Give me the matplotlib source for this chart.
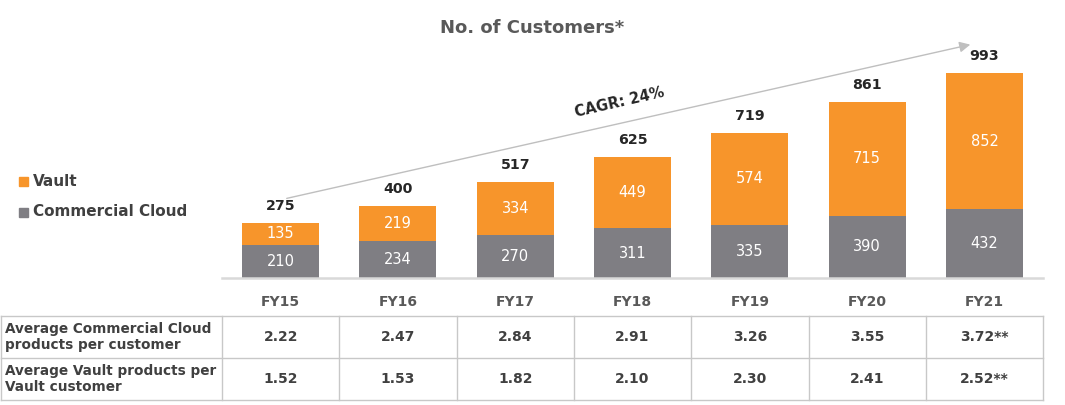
import numpy as np
import matplotlib.pyplot as plt
from matplotlib.patches import Rectangle

plt.rcParams['font.family'] = ['DejaVu Sans']

years = ['FY15', 'FY16', 'FY17', 'FY18', 'FY19', 'FY20', 'FY21']
cloud = [210, 234, 270, 311, 335, 390, 432]      # Commercial Cloud customers
vault = [135, 219, 334, 449, 574, 715, 852]      # Vault customers
totals = [275, 400, 517, 625, 719, 861, 993]     # unique customers
avg_cloud = ['2.22', '2.47', '2.84', '2.91', '3.26', '3.55', '3.72**']
avg_vault = ['1.52', '1.53', '1.82', '2.10', '2.30', '2.41', '2.52**']
row_labels = ['Average Commercial Cloud\nproducts per customer',
              'Average Vault products per\nVault customer']
cagr_text = 'CAGR: 24%'

orange = '#F7952B'
gray = '#7F7E83'
W, H = 1065, 405
base_y = 278          # pixel row of the bar baseline
px_per_unit = 0.1593
col_left, col_w = 222, 117.3

fig = plt.figure(figsize=(W / 100, H / 100), dpi=100)

# bars
ax = fig.add_axes([0, (H - base_y) / H, 1, base_y / H])
ax.set_xlim(0, W)
ax.set_ylim(0, base_y / px_per_unit)
ax.axis('off')

x = col_left + col_w * (np.arange(len(years)) + 0.5)
ax.bar(x, cloud, width=77, color=gray)
ax.bar(x, vault, bottom=cloud, width=77, color=orange)
for xi, c, v, t in zip(x, cloud, vault, totals):
    ax.text(xi, c / 2, str(c), ha='center', va='center', color='white', fontsize=10.5)
    ax.text(xi, c + v / 2, str(v), ha='center', va='center', color='white', fontsize=10.5)
    ax.annotate(str(t), (xi, c + v), xytext=(0, 17), textcoords='offset pixels',
                ha='center', va='center', fontweight='bold', color='#262626', fontsize=10.2)

# overlay in pixel coordinates for title, legend, arrow and table
ov = fig.add_axes([0, 0, 1, 1])
ov.set_xlim(0, W)
ov.set_ylim(H, 0)
ov.axis('off')
ov.patch.set_alpha(0)

ov.text(532, 28, 'No. of Customers*', ha='center', va='center', fontsize=13,
        fontweight='bold', color='#595959')

# legend
for yc, col, lab in [(181, orange, 'Vault'), (212, gray, 'Commercial Cloud')]:
    ov.add_patch(Rectangle((19, yc - 4.5), 9, 9, color=col))
    ov.text(33, yc, lab, ha='left', va='center', fontsize=11, fontweight='bold', color='#404040')

# CAGR arrow
ov.annotate('', xy=(973, 44), xytext=(284, 199),
            arrowprops=dict(arrowstyle='-|>', color='#BFBFBF', lw=1, mutation_scale=16))
ov.text(620, 102, cagr_text, ha='center', va='center', rotation=13, fontsize=10.5,
        fontweight='bold', color='#262626')

# baseline
ov.plot([col_left, col_left + col_w * 7], [base_y, base_y], color='#D9D9D9', lw=1.8)

# table
right = col_left + col_w * 7
rows_y = [316, 358, 400]
for y in rows_y:
    ov.plot([1, right], [y, y], color='#C8C8C8', lw=1)
for xv in [1] + [col_left + col_w * i for i in range(8)]:
    ov.plot([xv, xv], [rows_y[0], rows_y[-1]], color='#C8C8C8', lw=1)

for xi, yr in zip(x, years):
    ov.text(xi, 302, yr, ha='center', va='center', fontsize=10, fontweight='bold', color='#595959')
for r, vals in enumerate([avg_cloud, avg_vault]):
    yc = (rows_y[r] + rows_y[r + 1]) / 2
    ov.text(5, yc, row_labels[r], ha='left', va='center', fontsize=9.8,
            fontweight='bold', color='#404040', linespacing=1.25)
    for xi, v in zip(x, vals):
        ov.text(xi, yc, v, ha='center', va='center', fontsize=10, fontweight='bold', color='#404040')

fig.savefig('out.png', dpi=100)
